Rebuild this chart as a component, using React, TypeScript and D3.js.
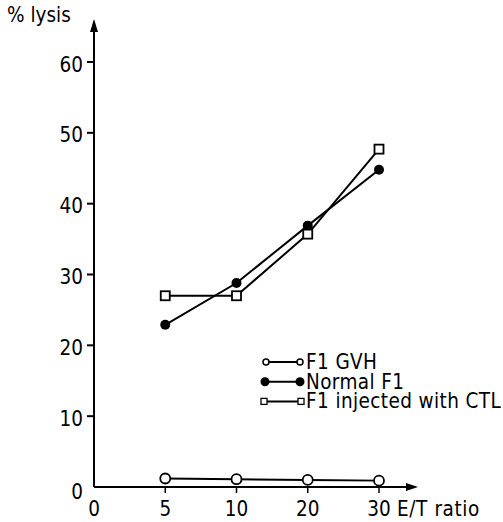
import React from "react";
import * as d3 from "d3";

const categories = ["0", "5", "10", "20", "30"];
const dataCats = ["5", "10", "20", "30"];
const gvh = [1.2, 1.1, 1.0, 0.9];
const normal = [22.9, 28.8, 36.9, 44.8];
const injected = [27.0, 27.0, 35.7, 47.7];
const yTicks = [0, 10, 20, 30, 40, 50, 60];
const legendLabels = ["F1 GVH", "Normal F1", "F1 injected with CTL"];

const W = 503, H = 522;
const FONT = "'DejaVu Sans Condensed', 'DejaVu Sans', sans-serif";
const FS = 20.5;

export default function App() {
  const x = d3.scalePoint<string>().domain(categories).range([94, 379]);
  const y = d3.scaleLinear().domain([0, 60]).range([487, 62]);
  const line = d3.line<[string, number]>().x(d => x(d[0])!).y(d => y(d[1]));
  const pts = (vals: number[]) => dataCats.map((c, i) => [c, vals[i]] as [string, number]);
  const x0 = x("0")!, y0 = y(0);
  const sq = 9;
  return (
    <svg width={W} height={H} style={{ position: "absolute", left: 0, top: 0, background: "#fff" }}
      fontFamily={FONT}>
      {/* axes */}
      <line x1={x0} y1={y0} x2={410} y2={y0} stroke="#000" strokeWidth={2} />
      <path d={`M418,${y0} L406,${y0 - 4} L406,${y0 + 4} Z`} fill="#000" />
      <line x1={x0} y1={y0} x2={x0} y2={28} stroke="#000" strokeWidth={2} />
      <path d={`M${x0},19 L${x0 - 4},32 L${x0 + 4},32 Z`} fill="#000" />
      {yTicks.map(t => (
        <g key={t}>
          {t > 0 && <line x1={x0 - 7} x2={x0} y1={y(t)} y2={y(t)} stroke="#000" strokeWidth={2} />}
          <text x={83} y={y(t) + (t === 0 ? 12 : 9.5)} textAnchor="end" fontSize={FS}>{t}</text>
        </g>
      ))}
      {categories.map(c => (
        <g key={c}>
          {c !== "0" && <line x1={x(c)} x2={x(c)} y1={y0} y2={y0 + 6} stroke="#000" strokeWidth={1.5} />}
          <text x={x(c)} y={516} textAnchor="middle" fontSize={FS}>{c}</text>
        </g>
      ))}
      <text x={7} y={22} fontSize={FS}>% lysis</text>
      <text x={397} y={516} fontSize={FS} letterSpacing={0.6}>E/T ratio</text>

      {/* series */}
      <path d={line(pts(gvh))!} fill="none" stroke="#000" strokeWidth={2} />
      <path d={line(pts(normal))!} fill="none" stroke="#000" strokeWidth={2} />
      <path d={line(pts(injected))!} fill="none" stroke="#000" strokeWidth={2} />
      {pts(gvh).map((p, i) => (
        <circle key={"g" + i} cx={x(p[0])} cy={y(p[1])} r={5} fill="#fff" stroke="#000" strokeWidth={1.8} />
      ))}
      {pts(normal).map((p, i) => (
        <circle key={"n" + i} cx={x(p[0])} cy={y(p[1])} r={5} fill="#000" />
      ))}
      {pts(injected).map((p, i) => (
        <rect key={"i" + i} x={x(p[0])! - sq / 2} y={y(p[1]) - sq / 2} width={sq} height={sq}
          fill="#fff" stroke="#000" strokeWidth={1.8} />
      ))}

      {/* legend */}
      {legendLabels.map((lab, i) => {
        const ly = 362 + i * 19.7;
        return (
          <g key={lab}>
            <line x1={265} x2={300} y1={ly} y2={ly} stroke="#000" strokeWidth={2} />
            {i === 0 && <>
              <circle cx={266} cy={ly} r={3} fill="#fff" stroke="#000" strokeWidth={1.5} />
              <circle cx={300} cy={ly} r={3} fill="#fff" stroke="#000" strokeWidth={1.5} />
            </>}
            {i === 1 && <>
              <circle cx={265} cy={ly} r={4.5} fill="#000" />
              <circle cx={300} cy={ly} r={4.5} fill="#000" />
            </>}
            {i === 2 && <>
              <rect x={261} y={ly - 3} width={6} height={6} fill="#fff" stroke="#000" strokeWidth={1.3} />
              <rect x={298} y={ly - 3} width={6} height={6} fill="#fff" stroke="#000" strokeWidth={1.3} />
            </>}
            <text x={306} y={ly + 7} fontSize={FS} letterSpacing={0.4}>{lab}</text>
          </g>
        );
      })}
    </svg>
  );
}
